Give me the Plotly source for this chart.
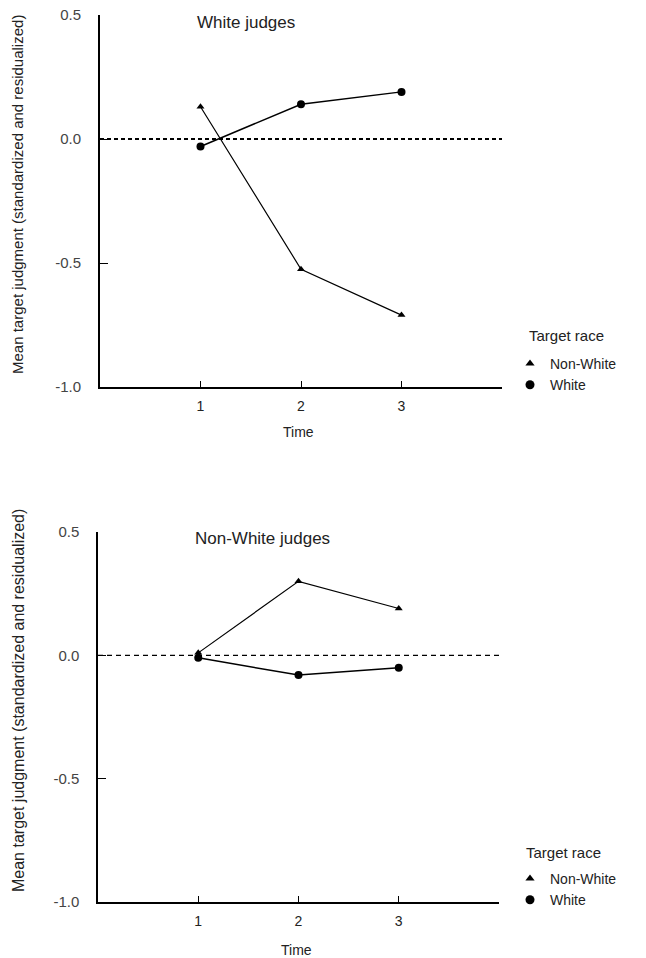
import plotly.graph_objects as go

time = [1, 2, 3]
tick_vals_y = [0.5, 0.0, -0.5, -1.0]
tick_text_y = ["0.5", "0.0", "-0.5", "-1.0"]

# White judges panel
wj_nonwhite = [0.13, -0.525, -0.71]
wj_white = [-0.03, 0.14, 0.19]

# Non-White judges panel
nwj_nonwhite = [0.01, 0.30, 0.19]
nwj_white = [-0.01, -0.08, -0.05]

series_names = ["Non-White", "White"]
ytitle = "Mean target judgment (standardized and residualized)"

W, H = 646, 958
FONT = "Liberation Sans, Arial, sans-serif"
INK = "#222222"

def fx(px):
    return px / W

def fy(py):
    return 1 - py / H

fig = go.Figure()

def add_panel(xa, ya, nw, wh, lw):
    fig.add_trace(go.Scatter(x=time, y=nw, mode="lines+markers", xaxis=xa, yaxis=ya,
                             line=dict(color="black", width=lw),
                             marker=dict(symbol="triangle-up", size=7, color="black"),
                             showlegend=False))
    fig.add_trace(go.Scatter(x=time, y=wh, mode="lines+markers", xaxis=xa, yaxis=ya,
                             line=dict(color="black", width=lw + 0.3),
                             marker=dict(symbol="circle", size=8, color="black"),
                             showlegend=False))

add_panel("x", "y", wj_nonwhite, wj_white, 1.2)
add_panel("x2", "y2", nwj_nonwhite, nwj_white, 1.2)

# legend-only marker entries
for leg in ["legend", "legend2"]:
    fig.add_trace(go.Scatter(x=[None], y=[None], mode="markers", name=series_names[0],
                             marker=dict(symbol="triangle-up", size=8, color="black"),
                             legend=leg, showlegend=True))
    fig.add_trace(go.Scatter(x=[None], y=[None], mode="markers", name=series_names[1],
                             marker=dict(symbol="circle", size=9, color="black"),
                             legend=leg, showlegend=True))

axis_common_x = dict(range=[0, 4], tickvals=time, ticktext=[str(t) for t in time],
                     showgrid=False, zeroline=False, showline=True, linecolor="black",
                     ticks="inside", ticklen=6, tickcolor="black", automargin=False,
                     tickfont=dict(family=FONT, size=14, color=INK),
                     ticklabelstandoff=5)
axis_common_y = dict(range=[-1.0, 0.5], tickvals=tick_vals_y, ticktext=tick_text_y,
                     showgrid=False, zeroline=False, showline=True, linecolor="black",
                     ticks="inside", ticklen=8, tickcolor="black", automargin=False,
                     tickfont=dict(family=FONT, size=15, color="#444444"),
                     ticklabelstandoff=14)

fig.update_layout(
    width=W, height=H,
    margin=dict(l=0, r=0, t=0, b=0),
    paper_bgcolor="white", plot_bgcolor="white",
    font=dict(family=FONT, color=INK),
    xaxis=dict(axis_common_x, domain=[fx(100), fx(502)], anchor="y", linewidth=2),
    yaxis=dict(axis_common_y, domain=[fy(387), fy(15)], anchor="x", linewidth=2),
    xaxis2=dict(axis_common_x, domain=[fx(98), fx(499)], anchor="y2", linewidth=1.5),
    yaxis2=dict(axis_common_y, domain=[fy(902), fy(532)], anchor="x2", linewidth=1.5),
    legend=dict(x=fx(510), y=fy(348), xanchor="left", yanchor="top",
                font=dict(family=FONT, size=14, color=INK), bgcolor="rgba(0,0,0,0)",
                tracegroupgap=0, itemwidth=30),
    legend2=dict(x=fx(510), y=fy(863), xanchor="left", yanchor="top",
                 font=dict(family=FONT, size=14, color=INK), bgcolor="rgba(0,0,0,0)",
                 tracegroupgap=0, itemwidth=30),
)

# zero reference lines
fig.add_shape(type="line", xref="x domain", yref="y", x0=0, x1=1, y0=0, y1=0,
              line=dict(color="black", width=2, dash="4px,3px"))
fig.add_shape(type="line", xref="x2 domain", yref="y2", x0=0, x1=1, y0=0, y1=0,
              line=dict(color="black", width=1.3, dash="5px,4px"))

ann = []
# panel titles
ann.append(dict(text="White judges", x=fx(195), y=fy(22), xref="paper", yref="paper",
                xanchor="left", yanchor="middle", showarrow=False,
                font=dict(family=FONT, size=17, color=INK)))
ann.append(dict(text="Non-White judges", x=fx(193), y=fy(538), xref="paper", yref="paper",
                xanchor="left", yanchor="middle", showarrow=False,
                font=dict(family=FONT, size=17, color=INK)))
# y titles
ann.append(dict(text=ytitle, x=fx(17), y=fy(195), xref="paper", yref="paper",
                textangle=-90, xanchor="center", yanchor="middle", showarrow=False,
                font=dict(family=FONT, size=15, color=INK)))
ann.append(dict(text=ytitle, x=fx(18), y=fy(701), xref="paper", yref="paper",
                textangle=-90, xanchor="center", yanchor="middle", showarrow=False,
                font=dict(family=FONT, size=16, color=INK)))
# x titles
ann.append(dict(text="Time", x=fx(298), y=fy(432), xref="paper", yref="paper",
                xanchor="center", yanchor="middle", showarrow=False,
                font=dict(family=FONT, size=14, color=INK)))
ann.append(dict(text="Time", x=fx(296), y=fy(950), xref="paper", yref="paper",
                xanchor="center", yanchor="middle", showarrow=False,
                font=dict(family=FONT, size=14, color=INK)))
# legend titles
ann.append(dict(text="Target race", x=fx(527), y=fy(335), xref="paper", yref="paper",
                xanchor="left", yanchor="middle", showarrow=False,
                font=dict(family=FONT, size=15, color=INK)))
ann.append(dict(text="Target race", x=fx(524), y=fy(852), xref="paper", yref="paper",
                xanchor="left", yanchor="middle", showarrow=False,
                font=dict(family=FONT, size=15, color=INK)))
fig.update_layout(annotations=ann)

fig.write_html("out.html")
